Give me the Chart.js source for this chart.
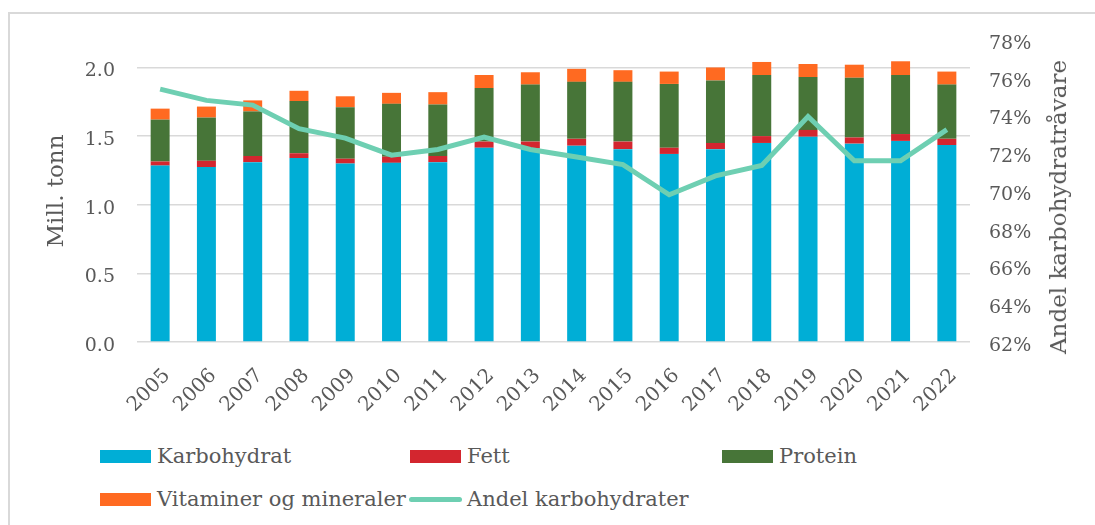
<!DOCTYPE html>
<html>
<head>
<meta charset="utf-8">
<script src="https://cdn.jsdelivr.net/npm/chart.js@4.4.1/dist/chart.umd.min.js"></script>
<style>
    html, body { margin: 0; padding: 0; background: #fff; overflow: hidden; }
    #wrap { position: relative; width: 1095px; height: 525px; }
    #frame { position: absolute; left: 8px; top: 12px; width: 1100px; height: 530px; border: 2px solid #d9d9d9; box-sizing: border-box; }
    #chart { position: absolute; left: 0; top: 0; }
    .rtitle { position: absolute; left: 1058px; top: 207px; transform: translate(-50%, -50%) rotate(-90deg);
        font: 23px 'DejaVu Serif'; color: #595959; white-space: nowrap; }
    .legend-item { position: absolute; display: flex; align-items: center; font: 21px 'DejaVu Serif'; color: #595959; white-space: nowrap; }
    .legend-box { width: 51px; height: 13px; margin-right: 6px; }
    .legend-line { width: 53px; height: 5px; border-radius: 3px; margin-right: 5px; }
</style>
</head>
<body>
<div id="wrap">
    <div id="frame"></div>
    <canvas id="chart" width="1095" height="430"></canvas>
    <div class="rtitle">Andel karbohydratråvare</div>
    <div id="legend"></div>
</div>
<script>
// ==================== DATA ====================
const YEARS = ['2005', '2006', '2007', '2008', '2009', '2010', '2011', '2012', '2013',
    '2014', '2015', '2016', '2017', '2018', '2019', '2020', '2021', '2022'];

// Mill. tonn
const KARBOHYDRAT = [1.285, 1.275, 1.31, 1.34, 1.30, 1.305, 1.31, 1.415, 1.41, 1.43, 1.405, 1.37, 1.405, 1.45, 1.495, 1.445, 1.465, 1.435];
const FETT = [0.03, 0.045, 0.045, 0.035, 0.035, 0.045, 0.045, 0.045, 0.05, 0.05, 0.055, 0.045, 0.045, 0.05, 0.05, 0.045, 0.05, 0.045];
const PROTEIN = [0.305, 0.315, 0.325, 0.38, 0.375, 0.385, 0.375, 0.39, 0.415, 0.415, 0.435, 0.465, 0.455, 0.445, 0.385, 0.435, 0.43, 0.395];
const VITAMINER = [0.08, 0.08, 0.08, 0.075, 0.08, 0.08, 0.09, 0.095, 0.09, 0.095, 0.085, 0.09, 0.095, 0.095, 0.095, 0.095, 0.10, 0.095];

// Andel karbohydrater (%)
const ANDEL = [75.4, 74.8, 74.55, 73.3, 72.8, 71.9, 72.2, 72.85, 72.2, 71.8, 71.4, 69.8, 70.8, 71.35, 73.95, 71.6, 71.6, 73.25];

const LEFT_TICKS = { min: 0, max: 2.2, step: 0.5 };
const RIGHT_TICKS = { min: 62, max: 78, step: 2 };

const TEXT = '#595959';
const GRID = '#d9d9d9';
const FONT = 'DejaVu Serif';

const SERIES = [
    { label: 'Karbohydrat', data: KARBOHYDRAT, color: '#00aed6' },
    { label: 'Fett', data: FETT, color: '#d3262f' },
    { label: 'Protein', data: PROTEIN, color: '#477538' },
    { label: 'Vitaminer og mineraler', data: VITAMINER, color: '#ff6a21' }
];
const LINE_COLOR = '#6ecfb2';

// legend spots (Excel places them in a loose grid)
const LEGEND_POS = [[100, 456], [410, 456], [722, 456], [100, 499], [409, 499]];

function buildDatasets() {
    const bars = SERIES.map(s => ({
        type: 'bar',
        label: s.label,
        data: s.data,
        backgroundColor: s.color,
        yAxisID: 'y',
        stack: 'tot',
        order: 1,
        barPercentage: 0.41,
        categoryPercentage: 1
    }));
    bars.push({
        type: 'line',
        label: 'Andel karbohydrater',
        data: ANDEL,
        borderColor: LINE_COLOR,
        backgroundColor: LINE_COLOR,
        borderWidth: 5,
        pointRadius: 0,
        tension: 0,
        yAxisID: 'y1',
        order: 0
    });
    return bars;
}

function renderLegend() {
    const el = document.getElementById('legend');
    const items = SERIES.map(s => ({ label: s.label, color: s.color, kind: 'box' }));
    items.push({ label: 'Andel karbohydrater', color: LINE_COLOR, kind: 'line' });
    el.innerHTML = items.map((it, i) => {
        const [x, y] = LEGEND_POS[i];
        const cls = it.kind === 'box' ? 'legend-box' : 'legend-line';
        return `<div class="legend-item" style="left:${x}px;top:${y}px;transform:translateY(-50%)">
            <span class="${cls}" style="background:${it.color}"></span><span>${it.label}</span></div>`;
    }).join('');
}

new Chart(document.getElementById('chart'), {
    data: { labels: YEARS, datasets: buildDatasets() },
    options: {
        responsive: false,
        animation: false,
        devicePixelRatio: 1,
        layout: { padding: { top: 40, left: 0, right: 0, bottom: 0 } },
        plugins: { legend: { display: false }, tooltip: { enabled: false } },
        scales: {
            x: {
                stacked: true,
                grid: { display: false },
                border: { display: false },
                ticks: {
                    color: TEXT,
                    font: { family: FONT, size: 20 },
                    minRotation: 45,
                    maxRotation: 45,
                    autoSkip: false,
                    padding: 14,
                    labelOffset: 7
                },
                afterFit: s => { s.height = 88; }
            },
            y: {
                position: 'left',
                stacked: true,
                min: LEFT_TICKS.min,
                max: LEFT_TICKS.max,
                grid: { color: GRID, lineWidth: 1.5, drawTicks: false },
                border: { display: false },
                ticks: {
                    stepSize: LEFT_TICKS.step,
                    includeBounds: false,
                    color: TEXT,
                    font: { family: FONT, size: 19 },
                    padding: 22,
                    labelOffset: 4,
                    callback: v => v.toFixed(1)
                },
                title: {
                    display: true,
                    text: 'Mill. tonn',
                    color: TEXT,
                    font: { family: FONT, size: 23 },
                    padding: { top: 43, bottom: 0 }
                },
                afterFit: s => { s.width = 137; }
            },
            y1: {
                position: 'right',
                stacked: false,
                min: RIGHT_TICKS.min,
                max: RIGHT_TICKS.max,
                grid: { display: false, drawTicks: false },
                border: { display: false },
                ticks: {
                    stepSize: RIGHT_TICKS.step,
                    color: TEXT,
                    font: { family: FONT, size: 19 },
                    padding: 19,
                    labelOffset: 4,
                    callback: v => v + '%'
                },
                afterFit: s => { s.width = 125; }
            }
        }
    }
});

renderLegend();
</script>
</body>
</html>
